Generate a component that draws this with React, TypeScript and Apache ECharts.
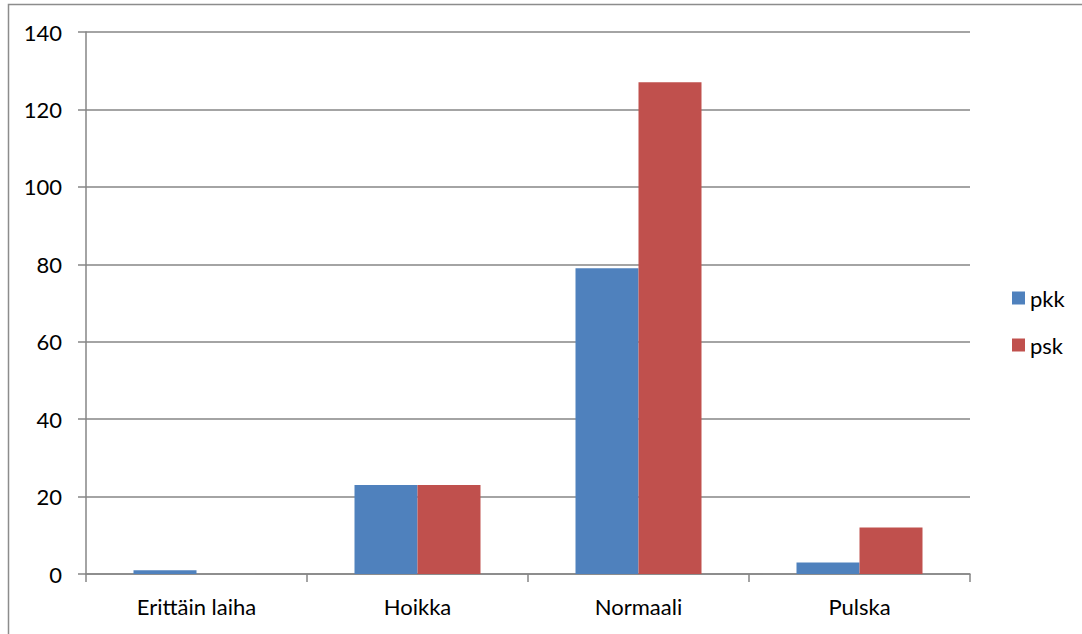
import React, { useEffect, useRef } from "react";
import * as echarts from "echarts";

const categories = ["Erittäin laiha", "Hoikka", "Normaali", "Pulska"];
const pkkValues = [1, 23, 79, 3];
const pskValues = [0, 23, 127, 12];
const seriesNames = ["pkk", "psk"];

export default function App() {
  const ref = useRef<HTMLDivElement>(null);
  useEffect(() => {
    if (!ref.current) return;
    const chart = echarts.init(ref.current, null, { renderer: "svg" });
    const font = "Lato, 'Open Sans', sans-serif";
    chart.setOption({
      animation: false,
      backgroundColor: "#ffffff",
      textStyle: { fontFamily: font },
      graphic: [
        {
          type: "rect",
          shape: { x: 8.5, y: 4.5, width: 1200, height: 800 },
          style: { fill: "none", stroke: "#8c8c8c", lineWidth: 1.5 },
          silent: true,
          z: -10,
        },
      ],
      grid: { left: 86, right: 112, top: 32, bottom: 60, containLabel: false, outerBoundsMode: "none" },
      legend: {
        orient: "vertical",
        left: 1007,
        top: 282,
        itemWidth: 13,
        itemHeight: 13,
        itemGap: 25,
        icon: "rect",
        textStyle: { fontFamily: font, fontSize: 22, color: "#000" },
        data: seriesNames,
      },
      xAxis: {
        type: "category",
        data: categories,
        axisLine: { show: true, lineStyle: { color: "#868686", width: 1.5 } },
        axisTick: { show: true, length: 8, lineStyle: { color: "#868686", width: 1.5 } },
        axisLabel: { fontFamily: font, fontSize: 22, color: "#000", margin: 21 },
      },
      yAxis: {
        type: "value",
        min: 0,
        max: 140,
        interval: 20,
        axisLine: { show: true, lineStyle: { color: "#868686", width: 1.5 } },
        axisTick: { show: true, length: 8, lineStyle: { color: "#868686", width: 1.5 } },
        axisLabel: { fontFamily: font, fontSize: 22, color: "#000", margin: 24 },
        splitLine: { show: true, lineStyle: { color: "#868686", width: 1.5 } },
      },
      series: [
        {
          name: seriesNames[0],
          type: "bar",
          data: pkkValues,
          barWidth: 63,
          barGap: "0%",
          itemStyle: { color: "#4F81BD" },
        },
        {
          name: seriesNames[1],
          type: "bar",
          data: pskValues,
          barWidth: 63,
          barGap: "0%",
          itemStyle: { color: "#C0504D" },
        },
      ],
    });
    return () => chart.dispose();
  }, []);
  return (
    <div
      ref={ref}
      style={{ position: "fixed", left: 0, top: 0, width: 1082, height: 634 }}
    />
  );
}
